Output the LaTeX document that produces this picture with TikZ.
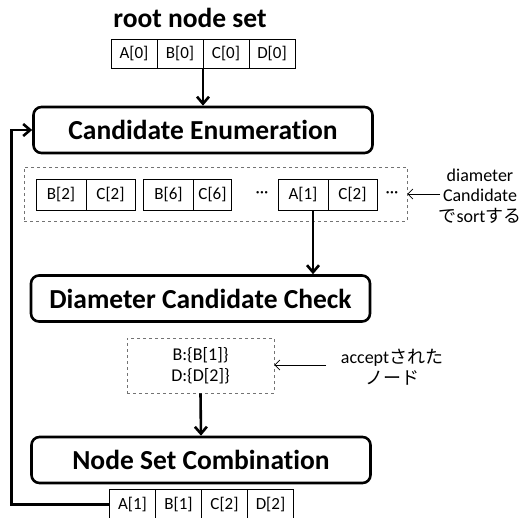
\documentclass[tikz,border=0pt]{standalone}
\usepackage{fontspec}
\setmainfont{Carlito}[Ligatures=NoCommon]
\newfontfamily\jp{Noto Sans CJK JP}
\usetikzlibrary{positioning,arrows.meta}
\tikzset{
  stage/.style={draw, line width=2.6pt, rounded corners=8pt, minimum width=339, minimum height=46,
    inner sep=0pt, font=\bfseries\fontsize{27.5}{30}\selectfont},
  cell/.style={draw, line width=0.8pt, minimum width=46, minimum height=29, inner sep=0pt,
    outer sep=0pt, font=\fontsize{17}{19}\selectfont},
  group/.style={draw=black!55, dashed, line width=0.6pt, inner sep=0pt},
  flow/.style={line width=2.6pt, -{Straight Barb[length=7pt,width=12pt]}},
  note/.style={line width=0.7pt, -{Straight Barb[length=5pt,width=10pt]}},
  memo/.style={align=center, font=\fontsize{18}{20.5}\selectfont},
}
\begin{document}
\begin{tikzpicture}[x=1pt, y=-1pt]
\useasboundingbox (0,0) rectangle (522,517);

% root node set
\node [font=\bfseries\fontsize{27.5}{30}\selectfont] (title) at (190,18) {root node set};
\node [cell] (r1) at (134,53.5) {A[0]};
\node [cell, right=0pt of r1] (r2) {B[0]};
\node [cell, right=0pt of r2] (r3) {C[0]};
\node [cell, right=0pt of r3] (r4) {D[0]};

% stages
\node [stage] (enum) at (203,130) {Candidate Enumeration};
\node [stage] (check) at (200.5,298.5) {Diameter Candidate Check};
\node [stage] (comb) at (201,460) {Node Set Combination};

% candidate pairs
\node [group, minimum width=383, minimum height=54] (cands) at (215.5,194) {};
\node [cell, minimum width=50, minimum height=31] (p1) at (61,194.5) {B[2]};
\node [cell, minimum width=49, minimum height=31, right=0pt of p1] (p2) {C[2]};
\node [cell, minimum width=50, minimum height=31] (p3) at (168.5,194.5) {B[6]};
\node [cell, minimum width=38, minimum height=31, right=0pt of p3] (p4) {C[6]};
\node [cell, draw=none] (dots1) at (262,194.5) {···};
\node [cell, minimum width=50, minimum height=31] (p5) at (303,194.5) {A[1]};
\node [cell, minimum width=49, minimum height=31, right=0pt of p5] (p6) {C[2]};
\node [cell, draw=none] (dots2) at (392,194.5) {···};

% accepted nodes
\node [group, memo, minimum width=147, minimum height=55] (acc) at (200.5,365.5) {B:\{B[1]\}\\D:\{D[2]\}};

% result node set
\node [cell, minimum height=31] (b1) at (132.5,504.5) {A[1]};
\node [cell, right=0pt of b1, minimum height=31] (b2) {B[1]};
\node [cell, right=0pt of b2, minimum height=31] (b3) {C[2]};
\node [cell, right=0pt of b3, minimum height=31] (b4) {D[2]};

% notes
\node [memo] (sortnote) at (480,196) {diameter\\Candidate\\{\jp で}sort{\jp する}};
\node [memo] (accnote) at (392,367) {accept{\jp された}\\{\jp ノード}};
\coordinate (s1) at (440,194);
\coordinate (s2) at (326,365);
\draw [note] (s1) -- (cands.east);
\draw [note] (s2) -- (acc.east |- s2);

% flow
\coordinate (a1) at ([xshift=10pt]p5.south);
\draw [flow] (r2.south east) -- (enum.north);
\draw [flow] (a1) -- (check.north -| a1);
\draw [flow] (acc.south) -- (comb.north);
\draw [flow] (b1.west) -- ++(-98,0) |- (enum.west);
\end{tikzpicture}
\end{document}
